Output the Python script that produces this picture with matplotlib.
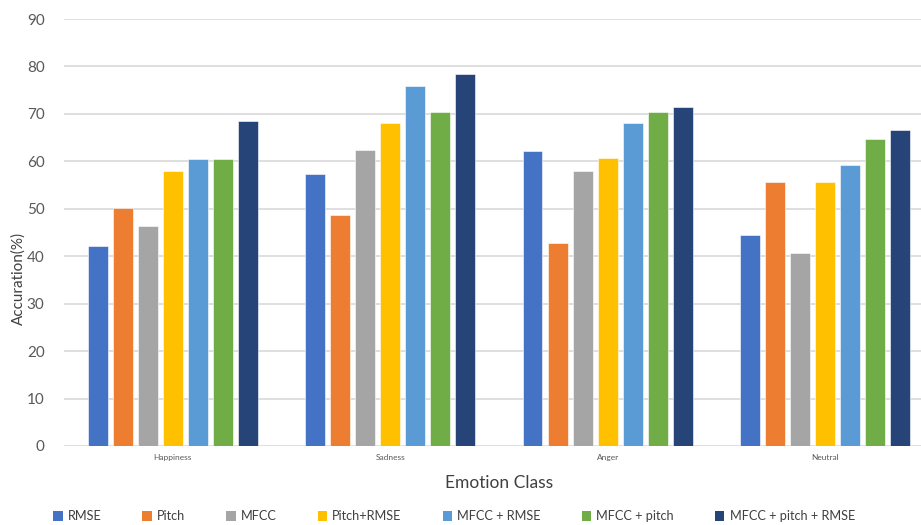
import matplotlib
matplotlib.use("Agg")
import matplotlib.pyplot as plt
import numpy as np
from matplotlib.patches import Patch

plt.rcParams['font.family'] = ['Lato', 'DejaVu Sans']

categories = ["Happiness", "Sadness", "Anger", "Neutral"]
series_names = ["RMSE", "Pitch", "MFCC", "Pitch+RMSE", "MFCC + RMSE",
                "MFCC + pitch", "MFCC + pitch + RMSE"]
rmse = [42.1, 57.3, 62.2, 44.5]
pitch = [50.1, 48.7, 42.8, 55.6]
mfcc = [46.3, 62.3, 58.0, 40.7]
pitch_rmse = [58.0, 68.0, 60.8, 55.6]
mfcc_rmse = [60.5, 75.9, 68.0, 59.2]
mfcc_pitch = [60.5, 70.4, 70.3, 64.8]
mfcc_pitch_rmse = [68.5, 78.5, 71.5, 66.7]
series = [rmse, pitch, mfcc, pitch_rmse, mfcc_rmse, mfcc_pitch, mfcc_pitch_rmse]
colors = ["#4472C4", "#ED7D31", "#A5A5A5", "#FFC000", "#5B9BD5", "#70AD47", "#264478"]

fig = plt.figure(figsize=(9.21, 5.25), dpi=100)
ax = fig.add_axes([0.0695, 0.1505, 0.9446, 0.8133])

x = np.arange(len(categories))
step = 0.115
width = 0.09
for i, (vals, col) in enumerate(zip(series, colors)):
    ax.bar(x + (i - 3) * step, vals, width=width, color=col,
           edgecolor="white", linewidth=0.4, zorder=3)

ax.set_xlim(-0.5, len(categories) - 0.5)
ax.set_ylim(0, 90)
ax.set_yticks(np.arange(0, 91, 10))
ax.set_xticks(x)
ax.set_xticklabels(categories, fontsize=6, color="#595959")
ax.tick_params(axis="y", labelsize=11, colors="#595959", length=0, pad=14)
ax.tick_params(axis="x", length=0, pad=6)
ax.grid(axis="y", color="#d9d9d9", linewidth=1.2, zorder=0)
for s in ax.spines.values():
    s.set_visible(False)

ax.set_xlabel("Emotion Class", fontsize=12.5, color="#404040", labelpad=10)
fig.text(0.02, 0.47, "Accuration(%)", rotation=90, fontsize=11,
         color="#404040", ha="center", va="center")

handles = [Patch(facecolor=c, edgecolor="none") for c in colors]
fig.legend(handles, series_names, loc="lower left", bbox_to_anchor=(0.045, -0.017),
           ncol=7, frameon=False, fontsize=9.2, handlelength=0.75, handleheight=0.75,
           handletextpad=0.4, columnspacing=3.2, labelcolor="#404040")

fig.savefig("out.png", dpi=100)
